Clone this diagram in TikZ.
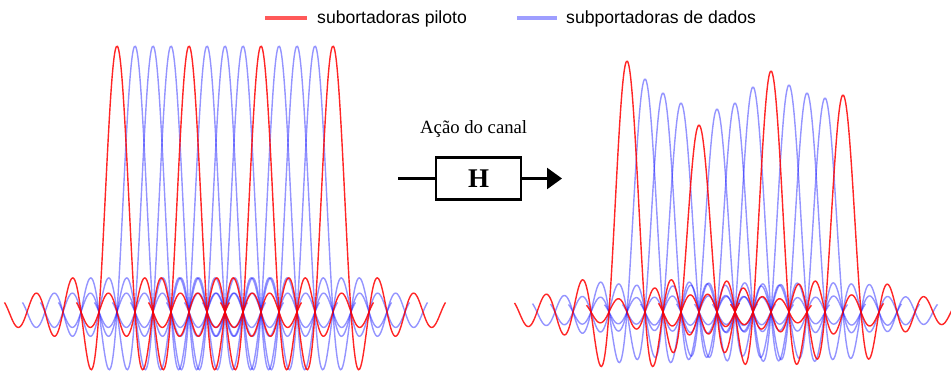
\documentclass[tikz,border=0pt]{standalone}
\usepackage{fontspec}
\setmainfont{Liberation Serif}
\newfontfamily\legfont{Liberation Sans}
\usetikzlibrary{arrows.meta}
\newcommand\sinccurve[3]{\draw[#3] plot[domain=-6.25:6.25, samples=200, smooth] ({#1+18*\x}, {312-#2*sin(180*\x)/(pi*\x)});}
\begin{document}
\begin{tikzpicture}[x=1pt,y=-1pt,
  pilot/.style={draw=red, draw opacity=0.85, line width=1.4pt},
  data/.style={draw=blue, draw opacity=0.42, line width=1.4pt},
  legtext/.style={font=\legfont\fontsize{17.6}{20}\selectfont, anchor=base west, inner sep=0pt},
  legpilot/.style={draw=red!65, line width=4pt},
  legdata/.style={draw=blue!38, line width=4pt},
  thick line/.style={line width=2.5pt},
]
\useasboundingbox (0,0) rectangle (951,372);
% left panel
\foreach \k in {1,2,3,5,6,7,9,10,11} {\sinccurve{117+18*\k}{266}{data}}
\foreach \k in {0,4,8,12} {\sinccurve{117+18*\k}{266}{pilot}}
% right panel
\foreach \k/\a in {1/233,2/219,3/209,5/203,6/209,7/225,9/227,10/219,11/214} {\sinccurve{627+18*\k}{\a}{data}}
\foreach \k/\a in {0/251,4/187,8/241,12/217} {\sinccurve{627+18*\k}{\a}{pilot}}
% legend
\coordinate (lp1) at (265,18); \coordinate (lp2) at (307,18);
\coordinate (ld1) at (517,18); \coordinate (ld2) at (557,18);
\draw[legpilot] (lp1) -- (lp2);
\draw[legdata] (ld1) -- (ld2);
\node[legtext] (legp) at (317,23.5) {subortadoras piloto};
\node[legtext] (legd) at (566,23.5) {subportadoras de dados};
% channel block
\node[font=\fontsize{18.7}{20}\selectfont, anchor=base west, inner sep=0pt] (acao) at (420,133) {Ação do canal};
\node[draw, line width=2.3pt, minimum width=85pt, minimum height=42pt, inner sep=0pt,
      font=\bfseries\fontsize{27}{27}\selectfont] (H) at (478.5,178.5) {H};
\coordinate (in) at (398,178.5);
\coordinate (out) at (562,178.5);
\draw[thick line] (in) -- (H.west);
\draw[thick line, -{Triangle[length=15pt,width=21pt]}] (H.east) -- (out);
\end{tikzpicture}
\end{document}
